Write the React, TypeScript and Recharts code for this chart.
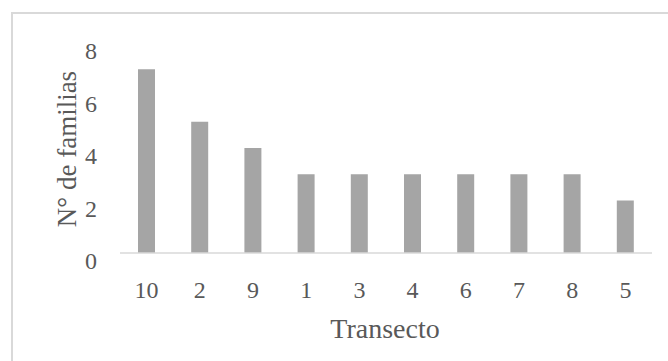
import React from "react";
import { BarChart, Bar, XAxis, YAxis, Label } from "recharts";

const transectos = ["10", "2", "9", "1", "3", "4", "6", "7", "8", "5"];
const familias = [7, 5, 4, 3, 3, 3, 3, 3, 3, 2];
const yTicks = [0, 2, 4, 6, 8];

const data = transectos.map((t, i) => ({ transecto: t, familias: familias[i] }));

const FONT = "'Liberation Serif', 'Times New Roman', serif";
const TEXT = "#595959";

const YTick = (props: any) => {
  const { y, payload } = props;
  return (
    <text x={97} y={y + 8} textAnchor="end" dominantBaseline="central" fill={TEXT} fontFamily={FONT} fontSize={24}>
      {payload.value}
    </text>
  );
};

const XTick = (props: any) => {
  const { x, y, payload } = props;
  return (
    <text x={x} y={y + 37} textAnchor="middle" dominantBaseline="central" fill={TEXT} fontFamily={FONT} fontSize={24}>
      {payload.value}
    </text>
  );
};

export default function App() {
  return (
    <div style={{ position: "absolute", left: 0, top: 0, width: 668, height: 361, overflow: "hidden", background: "#fff" }}>
      <div
        style={{
          position: "absolute",
          left: 11,
          top: 12,
          width: 700,
          height: 400,
          border: "2px solid #d9d9d9",
          boxSizing: "border-box",
        }}
      />
      <BarChart
        width={668}
        height={361}
        data={data}
        margin={{ top: 43, right: 16, bottom: 48, left: 60 }}
        barCategoryGap={0}
        style={{ position: "absolute", left: 0, top: 0 }}
      >
        <XAxis
          dataKey="transecto"
          height={60}
          tickLine={false}
          tickSize={0}
          tickMargin={0}
          axisLine={{ stroke: "#d9d9d9", strokeWidth: 1.5 }}
          tick={<XTick />}
          interval={0}
        >
          <Label
            content={(p: any) => {
              const vb = p.viewBox;
              return (
                <text x={vb.x + vb.width / 2 - 1} y={338} textAnchor="middle" fill={TEXT} fontFamily={FONT} fontSize={28}>
                  Transecto
                </text>
              );
            }}
          />
        </XAxis>
        <YAxis
          width={60}
          domain={[0, 8]}
          ticks={yTicks}
          tickLine={false}
          tickSize={0}
          axisLine={false}
          tick={<YTick />}
          interval={0}
        >
          <Label
            content={() => (
              <text
                x={76}
                y={149}
                transform="rotate(-90 76 149)"
                textAnchor="middle"
                fill={TEXT}
                fontFamily={FONT}
                fontSize={27}
              >
                N° de familias
              </text>
            )}
          />
        </YAxis>
        <Bar dataKey="familias" fill="#a5a5a5" barSize={17} isAnimationActive={false} />
      </BarChart>
    </div>
  );
}
